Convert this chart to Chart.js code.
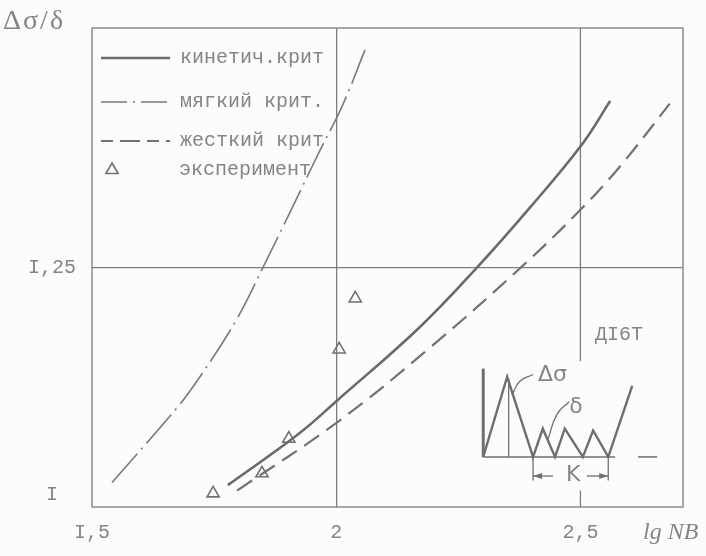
<!DOCTYPE html>
<html><head><meta charset="utf-8">
<script src="https://cdn.jsdelivr.net/npm/chart.js@4"></script>
<style>html,body{margin:0;padding:0;background:#fcfcfc;}#wrap{width:706px;height:556px;}</style>
</head><body><div id="wrap"><canvas id="c" width="706" height="556"></canvas></div>
<script>
// ---- tick labels ----
const xTicks = [1.5, 2, 2.5];
const xTickLabels = ['I,5', '2', '2,5'];
const yTicks = [1, 1.25];
const yTickLabels = ['I', 'I,25'];
const seriesNames = ['кинетич.крит', 'мягкий крит.', 'жесткий крит', 'эксперимент'];
const yTitle = 'Δσ/δ';
const xTitle = 'lg NB';
const alloyLabel = 'ДI6Т';

// ---- series (lg NB, Δσ/δ) ----
const kinX = [1.778, 1.920, 2.002, 2.172, 2.290, 2.397, 2.503, 2.561];
const kinY = [1.011, 1.066, 1.104, 1.185, 1.251, 1.316, 1.385, 1.433];
const softX = [1.541, 1.674, 1.721, 1.795, 1.850, 1.912, 1.967, 2.012, 2.059];
const softY = [1.014, 1.096, 1.130, 1.192, 1.250, 1.318, 1.379, 1.427, 1.489];
const hardX = [1.797, 2.002, 2.192, 2.380, 2.503, 2.581, 2.683];
const hardY = [1.005, 1.080, 1.162, 1.251, 1.315, 1.361, 1.430];
const expX = [1.748, 1.848, 1.903, 2.006, 2.039];
const expY = [1.002, 1.024, 1.062, 1.160, 1.216];

// ---- inset sketch (cycle diagram) ----
const waveX = [2.301, 2.350, 2.403, 2.423, 2.448, 2.468, 2.505, 2.526, 2.557, 2.606];
const waveY = [1.042, 1.130, 1.042, 1.073, 1.042, 1.073, 1.042, 1.071, 1.042, 1.120];
const baseAX = [2.301, 2.571], baseBX = [2.618, 2.657], baseY = 1.042;
const leftVertX = 2.301, leftVertY = [1.042, 1.139];
const peakVertX = 2.353, peakVertY = [1.042, 1.128];
const kTickX = [2.403, 2.557], kTickY = [1.042, 1.016];
const kArrowY = 1.021, kArrowLeft = [2.403, 2.444], kArrowRight = [2.513, 2.557];
const leadAX = [2.403, 2.376, 2.360], leadAY = [1.1325, 1.125, 1.110];
const leadBX = [2.477, 2.452, 2.434], leadBY = [1.1026, 1.0887, 1.062];
const insetLabels = [
  {text: 'Δσ', x: 2.413, y: 1.1314, align: 'left'},
  {text: 'δ', x: 2.491, y: 1.0962, align: 'center'},
  {text: 'K', x: 2.485, y: 1.0214, align: 'center'},
  {text: alloyLabel, x: 2.579, y: 1.1763, align: 'center'}
];
const grid25Top = [1.147, 1.513], grid25Bottom = [0.987, 1.005];

const pts = (xs, ys) => xs.map((x, i) => ({x, y: Array.isArray(ys) ? ys[i] : ys}));
const vpts = (x, ys) => ys.map(y => ({x, y}));

const INK = '#6f6f6f', TXT = '#858585', GRID = '#7c7c7c';
const MONO = '"Liberation Mono", "DejaVu Sans Mono", monospace';

const lineDs = (data, opts) => Object.assign({data, showLine: true, pointRadius: 0, borderColor: INK,
  borderWidth: 2, fill: false, tension: 0}, opts);

const datasets = [
  lineDs(pts(kinX, kinY), {label: seriesNames[0], borderWidth: 2.6, tension: 0.4, borderColor: '#6a6a6a'}),
  lineDs(pts(softX, softY), {label: seriesNames[1], borderWidth: 1.6, borderDash: [38, 6, 2, 6], tension: 0.4, borderColor: '#7a7a7a'}),
  lineDs(pts(hardX, hardY), {label: seriesNames[2], borderWidth: 2.2, borderDash: [18, 9], tension: 0.4, borderColor: '#727272'}),
  {label: seriesNames[3], data: pts(expX, expY), showLine: false, pointStyle: 'triangle', pointRadius: 7,
   pointBorderWidth: 1.6, pointBorderColor: '#707070', pointBackgroundColor: 'rgba(0,0,0,0)'},
  lineDs(pts(waveX, waveY), {borderWidth: 2.4}),
  lineDs(pts(baseAX, baseY), {borderWidth: 1.5}),
  lineDs(pts(baseBX, baseY), {borderWidth: 1.5}),
  lineDs(vpts(leftVertX, leftVertY), {borderWidth: 3}),
  lineDs(vpts(peakVertX, peakVertY), {borderWidth: 1.3}),
  lineDs(vpts(kTickX[0], kTickY), {borderWidth: 1.3}),
  lineDs(vpts(kTickX[1], kTickY), {borderWidth: 1.3}),
  lineDs(pts(kArrowLeft, kArrowY), {borderWidth: 1.3}),
  lineDs(pts(kArrowRight, kArrowY), {borderWidth: 1.3}),
  lineDs(pts(leadAX, leadAY), {borderWidth: 1.3, tension: 0.5}),
  lineDs(pts(leadBX, leadBY), {borderWidth: 1.3, tension: 0.5})
];

const decor = {
  id: 'decor',
  beforeDraw(chart) {
    const {ctx} = chart;
    ctx.save();
    ctx.fillStyle = '#fcfcfc';
    ctx.fillRect(0, 0, chart.width, chart.height);
    ctx.restore();
  },
  beforeDatasetsDraw(chart) {
    const {ctx, chartArea: a, scales: {x, y}} = chart;
    ctx.save();
    ctx.strokeStyle = GRID; ctx.lineWidth = 1.3;
    ctx.strokeRect(a.left, a.top, a.right - a.left, a.bottom - a.top);
    const gx = x.getPixelForValue(2.5);
    [grid25Top, grid25Bottom].forEach(seg => {
      ctx.beginPath();
      ctx.moveTo(gx, y.getPixelForValue(seg[0]));
      ctx.lineTo(gx, y.getPixelForValue(seg[1]));
      ctx.stroke();
    });
    ctx.restore();
  },
  afterDraw(chart) {
    const {ctx, chartArea: a, scales: {x, y}} = chart;
    ctx.save();
    // arrowheads of K dimension
    ctx.fillStyle = INK;
    const ay = y.getPixelForValue(kArrowY);
    const head = (px, dir) => {
      ctx.beginPath();
      ctx.moveTo(px, ay);
      ctx.lineTo(px + dir * 9, ay - 3);
      ctx.lineTo(px + dir * 9, ay + 3);
      ctx.closePath(); ctx.fill();
    };
    head(x.getPixelForValue(kArrowLeft[0]), 1);
    head(x.getPixelForValue(kArrowRight[1]), -1);
    // inset labels
    ctx.fillStyle = TXT;
    ctx.textBaseline = 'middle';
    insetLabels.forEach(l => {
      ctx.font = l.text === alloyLabel ? '20px ' + MONO : '22px "DejaVu Sans", sans-serif';
      ctx.textAlign = l.align;
      ctx.fillText(l.text, x.getPixelForValue(l.x), y.getPixelForValue(l.y));
    });
    // axis titles
    ctx.textAlign = 'left';
    ctx.font = '28px "Liberation Serif", serif';
    ctx.letterSpacing = '2px';
    ctx.fillText(yTitle, 3, 22);
    ctx.letterSpacing = '0px';
    ctx.font = 'italic 24px "Liberation Serif", serif';
    ctx.fillText(xTitle, a.right - 40, 533);
    // legend
    const lx0 = a.left + 9, lx1 = a.left + 78, tx = a.left + 88;
    const rows = [a.top + 30, a.top + 74, a.top + 113, a.top + 142];
    ctx.font = '20px ' + MONO;
    ctx.fillStyle = TXT;
    seriesNames.forEach((n, i) => ctx.fillText(n, tx + (i === 3 ? -1 : 0), rows[i]));
    ctx.strokeStyle = '#6a6a6a'; ctx.lineWidth = 2.6;
    ctx.beginPath(); ctx.moveTo(lx0, rows[0]); ctx.lineTo(lx1, rows[0]); ctx.stroke();
    ctx.strokeStyle = '#7a7a7a'; ctx.lineWidth = 1.6;
    ctx.setLineDash([26, 6, 2, 6]);
    ctx.beginPath(); ctx.moveTo(lx0, rows[1]); ctx.lineTo(lx1, rows[1]); ctx.stroke();
    ctx.strokeStyle = '#727272'; ctx.lineWidth = 2.2;
    ctx.setLineDash([12, 7, 20, 7]);
    ctx.beginPath(); ctx.moveTo(lx0, rows[2]); ctx.lineTo(lx1, rows[2]); ctx.stroke();
    ctx.setLineDash([]);
    ctx.lineWidth = 1.6;
    ctx.strokeStyle = '#707070';
    ctx.fillStyle = 'rgba(0,0,0,0)';
    Chart.helpers.drawPoint(ctx, {pointStyle: 'triangle', radius: 7, rotation: 0, borderWidth: 1.6}, a.left + 20, rows[3]);
    ctx.restore();
  }
};

new Chart(document.getElementById('c'), {
  type: 'scatter',
  data: {datasets},
  options: {
    responsive: false, animation: false, devicePixelRatio: 1,
    layout: {padding: {top: 15, right: 23, left: 0, bottom: 0}},
    plugins: {legend: {display: false}, tooltip: {enabled: false}},
    scales: {
      x: {
        type: 'linear', min: 1.5, max: 2.71,
        afterBuildTicks: s => { s.ticks = xTicks.map(v => ({value: v})); },
        afterFit: s => { s.height = 49; },
        ticks: {callback: v => xTickLabels[xTicks.indexOf(v)], color: TXT, padding: 14,
                font: {family: MONO, size: 20}, maxRotation: 0, autoSkip: false},
        grid: {drawTicks: false, lineWidth: 1.3,
               color: c => (c.tick && c.tick.value === 2) ? GRID : 'rgba(0,0,0,0)'},
        border: {display: false}
      },
      y: {
        type: 'linear', min: 0.987, max: 1.513,
        afterBuildTicks: s => { s.ticks = yTicks.map(v => ({value: v})); },
        afterFit: s => { s.width = 92; },
        ticks: {callback: v => yTickLabels[yTicks.indexOf(v)], color: TXT, padding: 16, crossAlign: 'center',
                font: {family: MONO, size: 20}, autoSkip: false},
        grid: {drawTicks: false, lineWidth: 1.3,
               color: c => (c.tick && c.tick.value === 1.25) ? GRID : 'rgba(0,0,0,0)'},
        border: {display: false}
      }
    }
  },
  plugins: [decor]
});
</script></body></html>
